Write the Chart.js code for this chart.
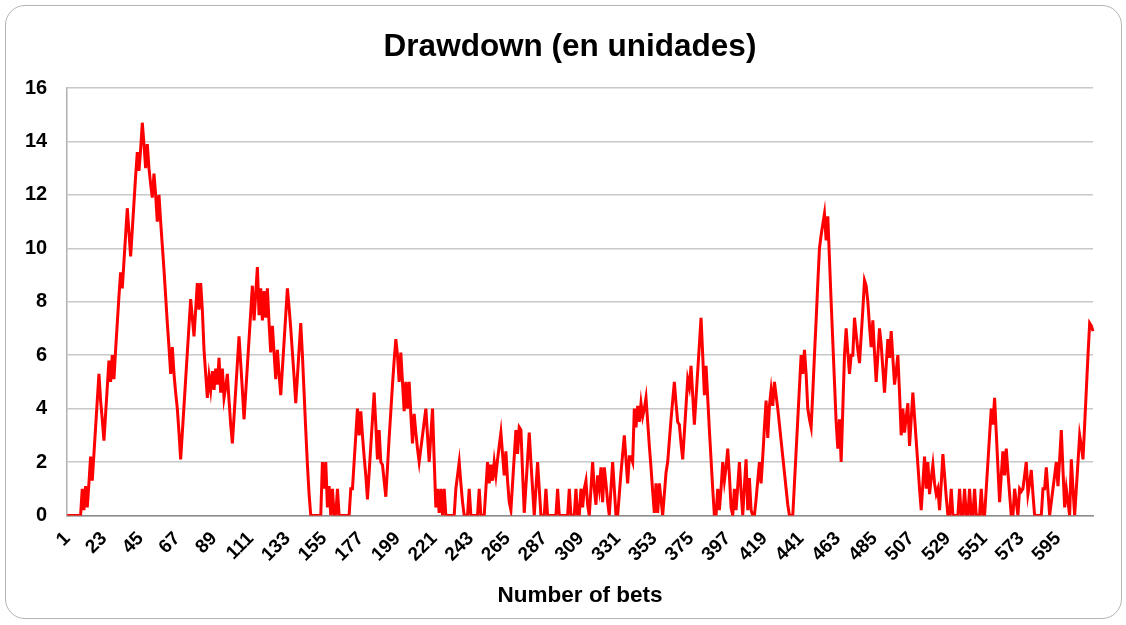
<!DOCTYPE html>
<html>
<head>
<meta charset="utf-8">
<script src="https://cdn.jsdelivr.net/npm/chart.js@4/dist/chart.umd.min.js"></script>
<style>
  html, body { margin: 0; padding: 0; background: #fff; }
  #frame {
    position: absolute; left: 5px; top: 5px; width: 1117px; height: 614px;
    border: 1.5px solid #b4b4b4; border-radius: 20px; box-sizing: border-box;
  }
  #chart { position: absolute; left: 0; top: 0; }
  #title {
    position: absolute; left: 370px; width: 400px; top: 25px; text-align: center;
    font: bold 31.5px "Liberation Sans", Arial, sans-serif; color: #000; line-height: 40px;
  }
</style>
</head>
<body>
<div id="frame"></div>
<canvas id="chart" width="1126" height="625"></canvas>
<div id="title">Drawdown (en unidades)</div>
<script>
// bet numbers 1..616 (category axis)
const betNumbers = [];
for (let i = 1; i <= 616; i++) betNumbers.push(String(i));

// labels shown on the x axis
const tickLabels = ['1', '23', '45', '67', '89', '111', '133', '155', '177', '199', '221', '243',
  '265', '287', '309', '331', '353', '375', '397', '419', '441', '463', '485', '507', '529',
  '551', '573', '595'];

// drawdown in units
const drawdown = [
  0, 0, 0, 0, 0, 0, 0, 0, 0, 1.0,
  0.2, 1.1, 0.3, 1.2, 2.2, 1.3, 2.3, 3.3, 4.3, 5.3,
  4.3, 3.6, 2.8, 3.8, 4.8, 5.8, 5.0, 6.0, 5.1, 6.2,
  7.2, 8.2, 9.1, 8.5, 9.5, 10.5, 11.5, 10.6, 9.7, 10.7,
  11.7, 12.7, 13.6, 12.9, 13.7, 14.7, 13.9, 13.0, 13.9, 13.0,
  12.4, 11.9, 12.8, 12.0, 11.0, 12.0, 11.0, 10.1, 9.2, 8.2,
  7.2, 6.3, 5.3, 6.3, 5.3, 4.6, 4.0, 3.1, 2.1, 3.1,
  4.1, 5.1, 6.1, 7.1, 8.1, 7.4, 6.7, 7.7, 8.7, 7.7,
  8.7, 7.7, 6.2, 5.3, 4.4, 5.2, 4.7, 5.4, 4.7, 5.5,
  4.9, 5.9, 4.6, 5.5, 4.4, 4.8, 5.3, 4.3, 3.4, 2.7,
  3.7, 4.7, 5.7, 6.7, 5.7, 4.7, 3.6, 4.6, 5.6, 6.6,
  7.6, 8.6, 7.3, 8.3, 9.3, 7.5, 8.5, 7.3, 8.4, 7.4,
  8.5, 7.2, 6.1, 7.1, 6.1, 5.1, 6.2, 5.3, 4.5, 5.5,
  6.5, 7.5, 8.5, 7.8, 7.0, 6.1, 5.2, 4.2, 5.2, 6.2,
  7.2, 6.0, 4.6, 3.2, 1.9, 0.8, 0, 0, 0, 0,
  0, 0, 0, 2.0, 1.0, 2.0, 0.3, 1.1, 0, 1.0,
  0, 0, 1.0, 0, 0, 0, 0, 0, 0, 0,
  1.0, 1.0, 2.0, 3.0, 4.0, 3.0, 3.9, 3.0, 2.2, 1.5,
  0.6, 1.6, 2.6, 3.6, 4.6, 3.4, 2.1, 3.2, 2.0, 1.9,
  1.3, 0.7, 1.8, 2.9, 3.9, 4.9, 5.8, 6.6, 6.0, 5.0,
  6.1, 5.0, 3.9, 5.0, 4.0, 5.0, 3.8, 2.7, 3.8, 3.1,
  2.5, 2.0, 2.5, 3.0, 3.5, 4.0, 3.0, 2.0, 3.0, 4.0,
  2.1, 0.3, 1.0, 0.1, 1.0, 0, 1.0, 0, 0, 0,
  0, 0, 0, 1.0, 1.5, 2.0, 1.2, 0.5, 0, 0,
  0, 1.0, 0, 0, 0, 0, 0, 1.0, 0, 0,
  0, 1.0, 2.0, 1.2, 1.9, 1.3, 2.0, 1.5, 2.1, 2.6,
  3.1, 2.3, 1.5, 2.4, 1.3, 0.5, 0.2, 1.2, 2.2, 3.2,
  2.3, 3.3, 3.2, 1.6, 0.1, 1.1, 2.1, 3.1, 2.0, 1.0,
  0, 1.0, 2.0, 1.0, 0, 0, 0, 1.0, 0, 0,
  0, 0, 0, 0, 1.0, 0, 0, 0, 0, 0,
  0, 1.0, 0, 0, 0, 1.0, 0, 0, 1.0, 0.3,
  1.0, 1.3, 0.4, 0, 1.0, 2.0, 1.0, 0.4, 1.5, 1.0,
  1.8, 0.5, 1.8, 1.2, 0.5, 0, 1.0, 2.0, 1.0, 0,
  0, 0.8, 1.6, 2.3, 3.0, 2.1, 1.2, 2.2, 2.2, 2.0,
  4.0, 3.3, 4.1, 3.5, 4.2, 3.7, 4.0, 4.4, 3.5, 2.6,
  1.8, 0.9, 0.1, 1.2, 0.1, 1.2, 0.6, 0, 0.8, 1.6,
  2.0, 2.8, 3.6, 4.3, 5.0, 4.2, 3.5, 3.4, 2.7, 2.1,
  3.1, 4.1, 5.1, 4.8, 5.6, 4.5, 3.4, 4.4, 5.4, 6.4,
  7.4, 6.0, 4.5, 5.6, 4.4, 3.2, 2.1, 1.0, 0, 0,
  1.0, 0.2, 1.0, 2.0, 1.3, 1.8, 2.5, 1.5, 0.3, 0,
  1.0, 0.2, 1.1, 2.0, 0.9, 0, 1.1, 2.1, 0.2, 1.4,
  0.2, 0, 0, 0.6, 1.3, 2.0, 1.2, 2.2, 3.3, 4.3,
  2.9, 4.1, 4.7, 4.1, 5.0, 4.5, 4.0, 3.4, 2.8, 2.2,
  1.6, 1.0, 0.4, 0, 0, 0, 1.2, 2.4, 3.6, 4.8,
  6.0, 5.3, 6.2, 5.3, 4.0, 3.6, 3.3, 4.6, 6.0, 7.3,
  8.7, 10.0, 10.5, 10.9, 11.3, 10.3, 11.2, 9.6, 8.0, 6.5,
  5.0, 3.5, 2.5, 3.6, 2.0, 4.0, 6.0, 7.0, 6.1, 5.3,
  6.0, 6.0, 7.4, 6.8, 6.2, 5.7, 6.7, 7.7, 8.8, 8.6,
  8.0, 7.1, 6.3, 7.3, 6.1, 5.0, 6.0, 7.0, 6.4, 5.5,
  4.6, 5.6, 6.6, 5.9, 6.9, 5.9, 4.9, 5.4, 6.0, 4.6,
  3.0, 4.0, 3.1, 3.7, 4.2, 2.6, 3.6, 4.6, 3.7, 2.8,
  1.9, 1.0, 0.2, 1.2, 2.2, 1.0, 2.0, 0.8, 1.4, 1.9,
  1.2, 0.8, 1.0, 0.2, 1.2, 2.3, 1.5, 0.7, 0, 0,
  1.0, 0, 0, 0, 0, 1.0, 0, 0, 1.0, 0,
  0, 1.0, 0, 0, 1.0, 0, 0, 0, 1.0, 0,
  0, 1.0, 2.0, 3.0, 4.0, 3.4, 4.4, 3.1, 1.8, 0.5,
  1.5, 2.4, 1.5, 2.5, 1.6, 0.8, 0, 0, 1.0, 0.5,
  0, 1.0, 0.9, 1.0, 1.5, 2.0, 0.8, 1.2, 1.7, 0.8,
  0, 0, 0, 0, 0, 1.0, 1.0, 1.8, 0.9, 0,
  0.5, 1.0, 1.5, 2.0, 1.1, 2.1, 3.2, 1.7, 0.3, 1.0,
  0.5, 0, 2.1, 1.0, 0, 1.0, 2.0, 3.0, 2.6, 2.1,
  3.4, 4.7, 6.0, 7.2, 7.1, 6.9
];

const font = 'Liberation Sans, Arial, sans-serif';

new Chart(document.getElementById('chart'), {
  type: 'line',
  data: {
    labels: betNumbers,
    datasets: [{
      label: 'Drawdown',
      data: drawdown,
      borderColor: '#ff0000',
      borderWidth: 3,
      pointRadius: 0,
      tension: 0,
      fill: false
    }]
  },
  options: {
    responsive: false,
    animation: false,
    layout: { padding: { left: 5, right: 33, top: 88, bottom: 16 } },
    plugins: {
      legend: { display: false },
      tooltip: { enabled: false },
      title: { display: false }
    },
    scales: {
      x: {
        offset: false,
        grid: { display: false },
        border: { display: true, color: '#8c8c8c', width: 1.5 },
        ticks: {
          autoSkip: false,
          maxRotation: 45,
          minRotation: 45,
          padding: 4,
          color: '#000',
          font: { family: font, size: 19, weight: 'bold' },
          callback: (val, i) => tickLabels.includes(betNumbers[i]) ? betNumbers[i] : null
        },
        title: {
          display: true,
          text: 'Number of bets',
          color: '#000',
          font: { family: font, size: 22.5, weight: 'bold' },
          padding: { top: 12, bottom: 0 }
        }
      },
      y: {
        min: 0,
        max: 16,
        grid: { color: '#c8c8c8', lineWidth: 1.5, drawTicks: false },
        border: { display: true, color: '#b0b0b0', width: 1.5 },
        ticks: {
          stepSize: 2,
          padding: 20,
          color: '#000',
          font: { family: font, size: 20, weight: 'bold' }
        }
      }
    }
  }
});
</script>
</body>
</html>
